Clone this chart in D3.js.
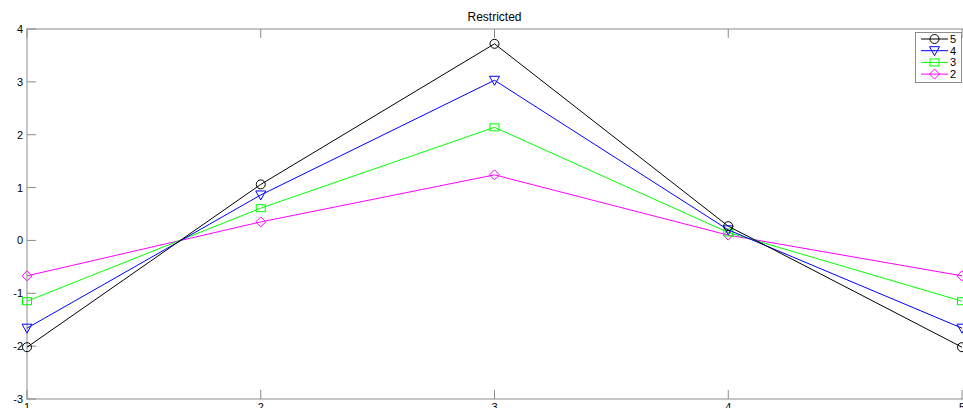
<!DOCTYPE html>
<html>
<head>
<meta charset="utf-8">
<script src="https://cdn.jsdelivr.net/npm/d3@7"></script>
<style>
  body { margin: 0; background: #fff; }
  svg { display: block; font-family: "Liberation Sans", Arial, sans-serif; }
</style>
</head>
<body>
<svg id="chart"></svg>
<script>
var xs = [1, 2, 3, 4, 5];
var s5 = [-2.02, 1.06, 3.72, 0.27, -2.02];
var s4 = [-1.66, 0.86, 3.03, 0.20, -1.66];
var s3 = [-1.15, 0.61, 2.14, 0.15, -1.15];
var s2 = [-0.67, 0.35, 1.24, 0.10, -0.67];
var names = ["5", "4", "3", "2"];
var colors = ["#000000", "#0000ff", "#00ff00", "#ff00ff"];
var markers = ["circle", "tri", "square", "diamond"];
var xTicks = [1, 2, 3, 4, 5];
var yTicks = [-3, -2, -1, 0, 1, 2, 3, 4];

(function drawChart() {
  var w = 963, h = 408;
  var pLeft = 27, pRight = 962, pTop = 29, pBottom = 399;

  var svg = d3.select("#chart").attr("width", w).attr("height", h);

  var x = d3.scaleLinear().domain([1, 5]).range([pLeft, pRight]);
  var y = d3.scaleLinear().domain([-3, 4]).range([pBottom, pTop]);

  var axisCol = "#8c8c8c";

  // frame
  svg.append("rect").attr("x", pLeft).attr("y", pTop)
    .attr("width", pRight - pLeft + 10).attr("height", pBottom - pTop)
    .attr("fill", "none").attr("stroke", axisCol).attr("stroke-width", 1);

  // ticks, inward, top/bottom and left
  var tl = 9;
  xTicks.forEach(function(t) {
    svg.append("line").attr("x1", x(t)).attr("x2", x(t)).attr("y1", pBottom).attr("y2", pBottom - tl).attr("stroke", axisCol);
    svg.append("line").attr("x1", x(t)).attr("x2", x(t)).attr("y1", pTop).attr("y2", pTop + tl).attr("stroke", axisCol);
    svg.append("text").attr("x", x(t)).attr("y", pBottom + 12).attr("text-anchor", "middle")
      .attr("font-size", 11).attr("fill", "#000").text(t);
  });
  yTicks.forEach(function(t) {
    svg.append("line").attr("x1", pLeft).attr("x2", pLeft + tl).attr("y1", y(t)).attr("y2", y(t)).attr("stroke", axisCol);
    svg.append("text").attr("x", pLeft - 4).attr("y", y(t) + 4).attr("text-anchor", "end")
      .attr("font-size", 11).attr("fill", "#000").text(t);
  });

  // title
  svg.append("text").attr("x", (pLeft + pRight) / 2).attr("y", 21).attr("text-anchor", "middle")
    .attr("font-size", 12).attr("fill", "#000").text("Restricted");

  function drawMarker(g, type, cx, cy, col) {
    if (type === "circle") {
      g.append("circle").attr("cx", cx).attr("cy", cy).attr("r", 4.5)
        .attr("fill", "none").attr("stroke", col);
    } else if (type === "tri") {
      g.append("path").attr("d", "M" + (cx - 5) + "," + (cy - 4) + "L" + (cx + 5) + "," + (cy - 4) + "L" + cx + "," + (cy + 5) + "Z")
        .attr("fill", "none").attr("stroke", col);
    } else if (type === "square") {
      g.append("rect").attr("x", cx - 4.5).attr("y", cy - 3.5).attr("width", 9).attr("height", 7)
        .attr("fill", "none").attr("stroke", col);
    } else {
      g.append("path").attr("d", "M" + cx + "," + (cy - 5) + "L" + (cx + 5) + "," + cy + "L" + cx + "," + (cy + 5) + "L" + (cx - 5) + "," + cy + "Z")
        .attr("fill", "none").attr("stroke", col);
    }
  }

  var series = [s5, s4, s3, s2];
  var line = d3.line().x(function(d, i) { return x(xs[i]); }).y(function(d) { return y(d); });

  var plot = svg.append("g");
  series.slice().reverse().forEach(function(s, ri) {
    var i = series.length - 1 - ri;
    var g = plot.append("g");
    g.append("path").datum(s).attr("d", line).attr("fill", "none")
      .attr("stroke", colors[i]).attr("stroke-width", 1);
    s.forEach(function(v, j) { drawMarker(g, markers[i], x(xs[j]), y(v), colors[i]); });
  });

  // legend
  var lg = svg.append("g");
  lg.append("rect").attr("x", 915.5).attr("y", 32.5).attr("width", 46).attr("height", 50)
    .attr("fill", "#fff").attr("stroke", axisCol);
  names.forEach(function(n, i) {
    var ly = 39 + i * 11.7;
    lg.append("line").attr("x1", 921).attr("x2", 948).attr("y1", ly).attr("y2", ly).attr("stroke", colors[i]);
    drawMarker(lg, markers[i], 934.5, ly, colors[i]);
    lg.append("text").attr("x", 950).attr("y", ly + 4).attr("font-size", 11).attr("fill", "#000").text(n);
  });
})();
</script>
</body>
</html>
